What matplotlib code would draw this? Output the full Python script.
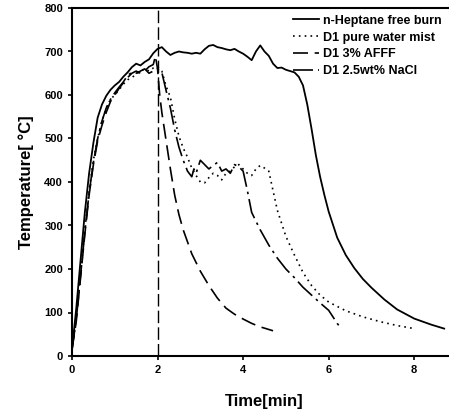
import numpy as np
import matplotlib
matplotlib.use('Agg')
import matplotlib.pyplot as plt

plt.rcParams['font.family'] = ['Liberation Sans', 'DejaVu Sans']
plt.rcParams['font.weight'] = 'bold'

# n-Heptane free burn
t_free = [0, 0.1, 0.2, 0.3, 0.4, 0.5, 0.6, 0.7, 0.8, 0.9, 1.0, 1.1, 1.2, 1.3, 1.4,
          1.5, 1.6, 1.7, 1.8, 1.9, 2.0, 2.1, 2.2, 2.3, 2.4, 2.5, 2.6, 2.7, 2.8, 2.9,
          3.0, 3.1, 3.2, 3.3, 3.4, 3.5, 3.6, 3.7, 3.8, 3.9, 4.0, 4.1, 4.2, 4.3, 4.4,
          4.5, 4.6, 4.7, 4.8, 4.9, 5.0, 5.1, 5.2, 5.3, 5.4, 5.5, 5.6, 5.7, 5.8, 5.9,
          6.0, 6.2, 6.4, 6.6, 6.8, 7.0, 7.3, 7.6, 8.0, 8.4, 8.7]
T_free = [15, 110, 220, 330, 420, 490, 548, 578, 598, 612, 622, 630, 642, 652, 664,
          672, 668, 676, 682, 696, 706, 710, 700, 692, 697, 700, 698, 697, 695, 697,
          695, 705, 713, 715, 710, 708, 705, 703, 706, 700, 695, 688, 680, 700, 714,
          700, 690, 672, 662, 663, 658, 655, 652, 642, 622, 578, 522, 462, 412, 370,
          332, 272, 232, 202, 177, 157, 130, 107, 86, 72, 63]

# D1 pure water mist
t_pure = [0, 0.1, 0.2, 0.3, 0.4, 0.5, 0.6, 0.7, 0.8, 0.9, 1.0, 1.1, 1.2, 1.3, 1.4,
          1.5, 1.6, 1.7, 1.8, 1.9, 2.0, 2.1, 2.2, 2.3, 2.4, 2.5, 2.6, 2.7, 2.8, 2.9,
          3.0, 3.1, 3.2, 3.3, 3.4, 3.5, 3.6, 3.7, 3.8, 3.9, 4.0, 4.1, 4.2, 4.3, 4.4,
          4.5, 4.6, 4.7, 4.8, 5.0, 5.2, 5.4, 5.6, 5.8, 6.0, 6.4, 6.8, 7.2, 7.6, 8.0]
T_pure = [15, 90, 190, 290, 380, 450, 500, 540, 570, 590, 600, 612, 625, 635, 640,
          648, 655, 660, 655, 662, 665, 655, 620, 595, 545, 505, 478, 457, 432, 415,
          400, 398, 410, 420, 415, 405, 420, 425, 435, 440, 430, 420, 415, 430, 438,
          432, 425, 380, 335, 275, 232, 192, 162, 140, 124, 104, 90, 79, 70, 63]

# D1 3% AFFF
t_afff = [0, 0.1, 0.2, 0.3, 0.4, 0.5, 0.6, 0.7, 0.8, 0.9, 1.0, 1.1, 1.2, 1.3, 1.4,
          1.5, 1.6, 1.7, 1.8, 1.9, 1.95, 2.0, 2.05, 2.1, 2.2, 2.3, 2.4, 2.5, 2.6, 2.8,
          3.0, 3.2, 3.4, 3.6, 3.8, 4.0, 4.2, 4.4, 4.7]
T_afff = [15, 80, 180, 280, 370, 440, 495, 530, 560, 585, 600, 615, 628, 640, 650,
          655, 650, 655, 665, 670, 690, 660, 600, 560, 495, 430, 370, 325, 290, 235,
          195, 162, 133, 110, 96, 85, 75, 67, 58]

# D1 2.5wt% NaCl
t_nacl = [0, 0.1, 0.2, 0.3, 0.4, 0.5, 0.6, 0.7, 0.8, 0.9, 1.0, 1.1, 1.2, 1.3, 1.4,
          1.5, 1.6, 1.7, 1.8, 1.9, 2.0, 2.1, 2.2, 2.3, 2.4, 2.5, 2.6, 2.7, 2.8, 2.85,
          2.9, 3.0, 3.1, 3.2, 3.3, 3.4, 3.5, 3.6, 3.7, 3.8, 3.9, 4.0, 4.1, 4.2, 4.4,
          4.6, 4.8, 5.0, 5.2, 5.4, 5.6, 5.8, 6.0, 6.1, 6.2, 6.3]
T_nacl = [15, 85, 185, 285, 375, 445, 500, 540, 570, 590, 605, 618, 630, 645, 652,
          650, 655, 660, 650, 655, 660, 652, 610, 570, 520, 480, 450, 425, 412, 430,
          420, 450, 440, 430, 438, 445, 425, 430, 420, 440, 435, 425, 380, 330, 290,
          255, 225, 200, 180, 158, 140, 122, 105, 90, 75, 62]

labels = ['n-Heptane free burn', 'D1 pure water mist', 'D1 3% AFFF', 'D1 2.5wt% NaCl']

fig = plt.figure(figsize=(4.49, 4.19), dpi=100)
ax = fig.add_axes([72/449, 63/419, 385/449, 348/419])

ax.plot(t_free, T_free, color='black', lw=1.3, label=labels[0])
ax.plot(t_pure, T_pure, color='black', lw=1.2, linestyle=(0, (1, 2.5)), label=labels[1])
ax.plot(t_afff, T_afff, color='black', lw=1.2, linestyle=(0, (9, 4)), label=labels[2])
ax.plot(t_nacl, T_nacl, color='black', lw=1.2, linestyle=(0, (12, 3, 1.5, 3)), label=labels[3])

ax.axvline(2, color='black', lw=1.0, linestyle=(0, (9, 3)))

ax.set_xlim(0, 9)
ax.set_ylim(0, 800)
ax.set_xticks([0, 2, 4, 6, 8])
ax.set_yticks(range(0, 801, 100))
ax.spines['right'].set_visible(False)
for s in ['left', 'bottom', 'top']:
    ax.spines[s].set_linewidth(1.5)
ax.tick_params(labelsize=8, width=1.2, length=3, direction='out')
ax.set_xlabel('Time[min]', fontsize=12, fontweight='bold', labelpad=14)
ax.set_ylabel('Temperature[ °C]', fontsize=12, fontweight='bold', labelpad=7)

fig.legend(loc='upper left', bbox_to_anchor=(284/449, 1 - 6/419), frameon=False,
           fontsize=9.0, handlelength=2.1, handletextpad=0.3, labelspacing=0.38,
           borderpad=0.2)

fig.savefig('out.png', dpi=100)
